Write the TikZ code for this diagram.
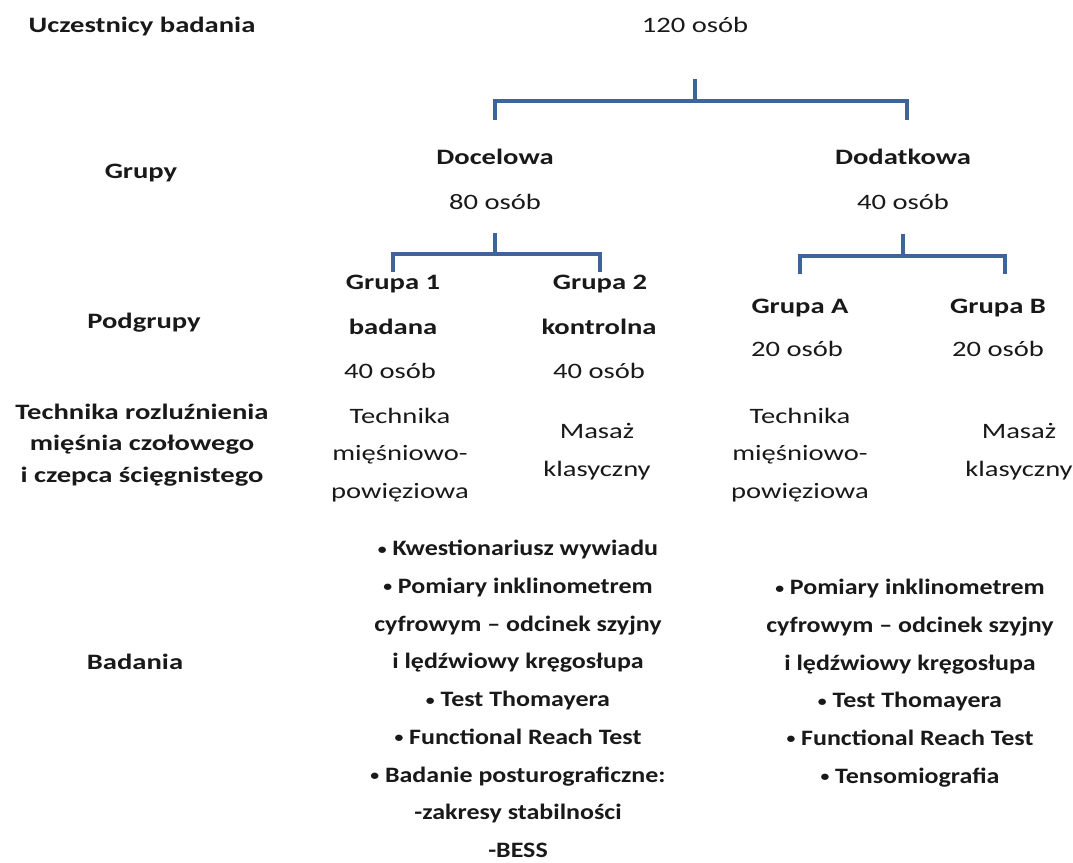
\documentclass[tikz,border=0pt]{standalone}
\usepackage{fontspec}
\setmainfont{Carlito}[FakeStretch=1.3]
\newfontfamily\listfont{Carlito}[FakeStretch=1.18]
\usepackage{xcolor}
\usepackage{tikz}
\definecolor{bracecol}{RGB}{62,100,152}
\definecolor{inkcol}{RGB}{25,25,25}
\newcommand\blt{\raisebox{1.6pt}{\fontsize{15}{0}\selectfont•}}

\begin{document}
\begin{tikzpicture}[x=1pt, y=-1pt,
  every node/.style={inner sep=0pt, align=center, text=inkcol,
    font=\fontsize{22}{37.7}\selectfont},
  rowname/.style={font=\fontsize{22}{31.5}\selectfont\bfseries},
  grp/.style={anchor=base, font=\fontsize{22}{37.7}\selectfont\bfseries},
  cnt/.style={anchor=base},
  exams/.style={font=\listfont\fontsize{22}{37.7}\selectfont\bfseries},
  brace/.style={draw=bracecol, line width=4pt}]
\useasboundingbox[fill=white] (0,0) rectangle (1073,862);
% row names
\node[rowname, anchor=base] (r1) at (142,32) {Uczestnicy badania};
\node[rowname, anchor=base] (r2) at (141,178) {Grupy};
\node[rowname, anchor=base] (r3) at (144,328) {Podgrupy};
\node[rowname] (r4) at (142,445) {Technika rozluźnienia\\mięśnia czołowego\\i czepca ścięgnistego};
\node[rowname, anchor=base] (r5) at (135,669) {Badania};
% groups
\node[cnt] (all) at (695,32) {120 osób};
\node[grp] (doc) at (495,164) {Docelowa};
\node[cnt] (doc n) at (495,209) {80 osób};
\node[grp] (dod) at (903,164) {Dodatkowa};
\node[cnt] (dod n) at (903,209) {40 osób};
% subgroups
\node[grp] (g1) at (393,289) {Grupa 1};
\node[grp] (g1b) at (393,334) {badana};
\node[cnt] (g1n) at (390,378) {40 osób};
\node[grp] (g2) at (600,289) {Grupa 2};
\node[grp] (g2b) at (599,334) {kontrolna};
\node[cnt] (g2n) at (599,378) {40 osób};
\node[grp] (ga) at (800,313) {Grupa A};
\node[cnt] (gan) at (797,356) {20 osób};
\node[grp] (gb) at (998,313) {Grupa B};
\node[cnt] (gbn) at (998,356) {20 osób};
% techniques
\node (t1) at (400,455) {Technika\\mięśniowo-\\powięziowa};
\node (t2) at (597,452) {Masaż\\klasyczny};
\node (ta) at (800,455) {Technika\\mięśniowo-\\powięziowa};
\node (tb) at (1019,452) {Masaż\\klasyczny};
% examinations
\node[exams] (b1) at (518,699)
  {\blt{} Kwestionariusz wywiadu\\\blt{} Pomiary inklinometrem\\cyfrowym – odcinek szyjny\\i lędźwiowy kręgosłupa\\\blt{} Test Thomayera\\\blt{} Functional Reach Test\\\blt{} Badanie posturograficzne:\\-zakresy stabilności\\-BESS};
\node[exams] (b2) at (910,683)
  {\blt{} Pomiary inklinometrem\\cyfrowym – odcinek szyjny\\i lędźwiowy kręgosłupa\\\blt{} Test Thomayera\\\blt{} Functional Reach Test\\\blt{} Tensomiografia};
% brackets
\draw[brace] ([yshift=-47pt]all.base) -- ++(0,22) coordinate (j1) -| ([yshift=44pt]doc.base);
\draw[brace] (j1) -| ([xshift=4pt, yshift=44pt]dod.base);
\draw[brace] ([yshift=-24pt]doc n.base) -- ++(0,21) coordinate (j2) -| ([yshift=17pt]g1.base);
\draw[brace] (j2) -| ([yshift=17pt]g2.base);
\draw[brace] ([yshift=-25pt]dod n.base) -- ++(0,22) coordinate (j3) -| ([yshift=39pt]ga.base);
\draw[brace] (j3) -| ([xshift=7pt, yshift=39pt]gb.base);
\end{tikzpicture}
\end{document}
